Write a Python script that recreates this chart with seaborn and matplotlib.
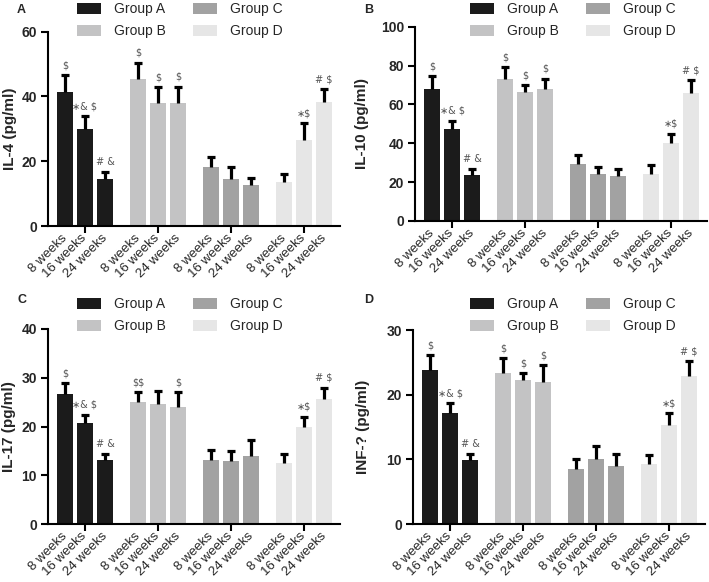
import numpy as np
import pandas as pd
import matplotlib
matplotlib.use("Agg")
import matplotlib.pyplot as plt
import seaborn as sns
from matplotlib.patches import Patch

# ---------------- data ----------------
groups = ["Group A", "Group B", "Group C", "Group D"]
weeks = ["8 weeks", "16 weeks", "24 weeks"]
colors = ["#1b1b1b", "#c3c3c4", "#a2a2a2", "#e6e6e6"]

il4_mean = [41.3, 29.8, 14.4, 45.4, 37.9, 37.9, 18.2, 14.4, 12.6, 13.6, 26.5, 38.1]
il4_err = [5.2, 4.1, 2.3, 5.0, 5.0, 5.1, 3.1, 3.8, 2.1, 2.4, 5.3, 4.1]

il10_mean = [67.7, 47.1, 23.7, 73.0, 66.5, 67.7, 29.3, 24.2, 23.1, 24.2, 40.3, 65.7]
il10_err = [6.8, 4.5, 3.2, 6.3, 3.5, 5.5, 4.7, 3.4, 3.9, 4.6, 4.7, 6.8]

il17_mean = [26.7, 20.7, 13.2, 25.1, 24.6, 23.9, 13.2, 12.9, 13.9, 12.5, 20.0, 25.7]
il17_err = [2.2, 1.7, 1.1, 2.0, 2.7, 3.2, 1.9, 2.0, 3.4, 1.9, 2.0, 2.3]

inf_mean = [23.8, 17.1, 9.9, 23.4, 22.3, 21.9, 8.5, 10.0, 9.0, 9.3, 15.3, 22.9]
inf_err = [2.3, 1.6, 1.0, 2.2, 1.0, 2.7, 1.5, 2.1, 1.9, 1.3, 1.8, 2.3]

ann_std = ["$", "∗& $", "# &", "$", "$", "$", "", "", "", "", "∗$", "# $"]
ann_c = ["$", "∗& $", "# &", "$$", "", "$", "", "", "", "", "∗$", "# $"]

panels = [
    dict(letter="A", ylabel="IL-4 (pg/ml)", mean=il4_mean, err=il4_err, ann=ann_std,
         ymax=60, ystep=20),
    dict(letter="B", ylabel="IL-10 (pg/ml)", mean=il10_mean, err=il10_err, ann=ann_std,
         ymax=100, ystep=20),
    dict(letter="C", ylabel="IL-17 (pg/ml)", mean=il17_mean, err=il17_err, ann=ann_c,
         ymax=40, ystep=10),
    dict(letter="D", ylabel="INF-? (pg/ml)", mean=inf_mean, err=inf_err, ann=ann_std,
         ymax=30, ystep=10),
]

# ---------------- layout ----------------
W, H = 709, 582
sns.set_theme(style="white")
plt.rcParams["font.family"] = ["Liberation Sans", "DejaVu Sans"]

fig = plt.figure(figsize=(W / 100, H / 100), dpi=100)

# axes boxes in pixels: left, right, top(y of ymax), bottom(y of 0)
boxes = [(48, 340, 31.5, 226), (415, 707, 26.7, 221),
         (48, 340, 329, 524), (413, 705, 330, 524)]
label_x = [-0.106, -0.158, -0.11, -0.147]
letter_pos = [(17, 4), (364, 4), (17, 294), (364, 294)]
legend_pos = [(77, 2), (470, 2), (77, 297), (470, 297)]

group_gap = 3.65
bar_pos = [g * group_gap + (w - 1) for g in range(4) for w in range(3)]
group_centers = [g * group_gap for g in range(4)]

for i, p in enumerate(panels):
    l, r, t, b = boxes[i]
    ax = fig.add_axes([l / W, 1 - b / H, (r - l) / W, (b - t) / H])
    df = pd.DataFrame({
        "pos": bar_pos,
        "val": p["mean"],
        "group": [g for g in groups for _ in weeks],
    })
    sns.barplot(data=df, x="pos", y="val", hue="group", hue_order=groups,
                palette=colors, native_scale=True, width=0.8, dodge=False,
                errorbar=None, legend=False, saturation=1, linewidth=0, ax=ax)
    eb = ax.errorbar(bar_pos, p["mean"], yerr=[np.zeros(12), p["err"]], fmt="none",
                     ecolor="black", elinewidth=2.3, capsize=2.6, capthick=2.3, zorder=3)
    eb[1][0].set_visible(False)

    for x, m, e, a in zip(bar_pos, p["mean"], p["err"], p["ann"]):
        if a:
            ax.annotate(a, xy=(x, m + e), xytext=(0, 3.5), textcoords="offset points",
                        ha="center", va="bottom", fontsize=7, color="#555555",
                        family=["DejaVu Sans"], parse_math=False)

    ax.set_xlim(-1.85, 12.75)
    ax.set_ylim(0, p["ymax"])
    ax.set_yticks(np.arange(0, p["ymax"] + 0.1, p["ystep"]))
    ax.set_yticklabels([f"{v:g}" for v in np.arange(0, p["ymax"] + 0.1, p["ystep"])],
                       fontsize=10, fontweight="bold")
    ax.xaxis.remove_overlapping_locs = False
    ax.set_xticks(group_centers)
    ax.set_xticklabels([])
    ax.set_xticks(bar_pos, minor=True)
    ax.set_xticklabels(weeks * 4, minor=True, rotation=45, ha="right", va="center",
                       rotation_mode="anchor", fontsize=9.5)
    ax.tick_params(axis="x", which="major", length=5, width=1.5, color="black",
                   direction="out", bottom=True)
    ax.tick_params(axis="x", which="minor", length=0, pad=7.5, bottom=True)
    ax.tick_params(axis="y", length=5, width=1.5, color="black", direction="out",
                   left=True, pad=3)
    ax.set_xlabel("")
    ax.set_ylabel(p["ylabel"], fontsize=11, fontweight="bold")
    ax.yaxis.set_label_coords(label_x[i], 0.5)
    for s in ["top", "right"]:
        ax.spines[s].set_visible(False)
    for s in ["left", "bottom"]:
        ax.spines[s].set_linewidth(1.5)
        ax.spines[s].set_color("black")
    ax.grid(False)

    lx, ly = letter_pos[i]
    fig.text(lx / W, 1 - ly / H, p["letter"], fontsize=9, fontweight="bold",
             ha="left", va="top")

    handles = [Patch(facecolor=c, edgecolor="none") for c in colors]
    gx, gy = legend_pos[i]
    fig.legend(handles, groups, loc="upper left", bbox_to_anchor=(gx / W, 1 - gy / H),
               ncol=2, frameon=False, fontsize=10, borderpad=0, borderaxespad=0,
               handlelength=1.7, handleheight=0.85, handletextpad=0.95,
               columnspacing=2.0, labelspacing=0.6)

fig.savefig("out.png", dpi=100)
